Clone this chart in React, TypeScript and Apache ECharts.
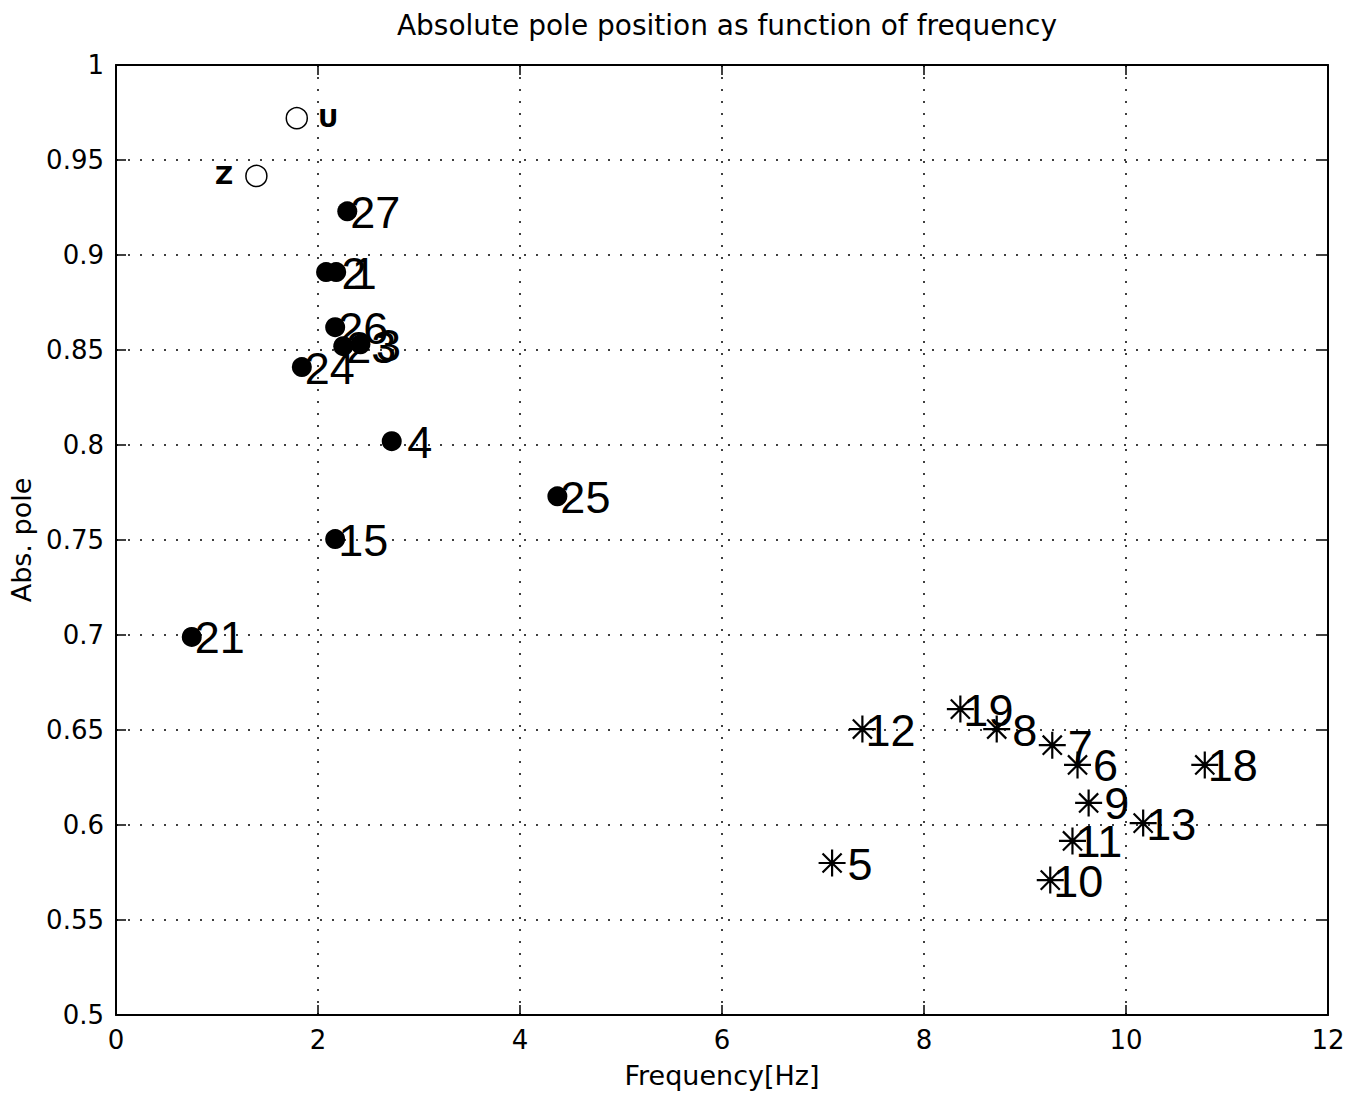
import React, { useEffect, useRef } from "react";
import * as echarts from "echarts";

const titleText = "Absolute pole position as function of frequency";
const xName = "Frequency[Hz]";
const yName = "Abs. pole";

const dotLabels = ["27", "2", "1", "26", "23", "3", "24", "4", "25", "15", "21"];
const dotFreq = [2.29, 2.08, 2.18, 2.17, 2.25, 2.42, 1.84, 2.73, 4.37, 2.17, 0.75];
const dotPole = [0.923, 0.891, 0.891, 0.862, 0.852, 0.853, 0.841, 0.802, 0.773, 0.7505, 0.699];

const starLabels = ["12", "19", "8", "7", "6", "9", "13", "18", "11", "10", "5"];
const starFreq = [7.39, 8.36, 8.72, 9.27, 9.52, 9.63, 10.17, 10.78, 9.47, 9.25, 7.09];
const starPole = [0.6505, 0.661, 0.6505, 0.642, 0.6316, 0.6116, 0.601, 0.6316, 0.5916, 0.571, 0.58];

const openLabels = ["U", "Z"];
const openFreq = [1.79, 1.39];
const openPole = [0.972, 0.9416];

const FONT = "'Liberation Sans', Arial, sans-serif";
const WIDE = "'DejaVu Sans', Verdana, sans-serif";
const STAR = "path://M5,0L5,10M0,5L10,5M1.46,1.46L8.54,8.54M1.46,8.54L8.54,1.46";

const pad = (s: string) => (s.length === 1 ? "\u00A0" + s : s);

const numLabel = {
  show: true,
  position: ["50%", "50%"],
  align: "left",
  verticalAlign: "middle",
  offset: [3, 1],
  fontFamily: FONT,
  fontSize: 45,
  color: "#000",
  opacity: 1,
  formatter: (p: any) => pad(p.name),
};

export default function App() {
  const ref = useRef<HTMLDivElement>(null);
  useEffect(() => {
    const chart = echarts.init(ref.current!, undefined, { renderer: "svg" });
    const axisCommon = {
      axisLine: { show: true, onZero: false, lineStyle: { color: "#000", width: 2 } },
      axisTick: { show: true, inside: true, length: 10, lineStyle: { color: "#000", width: 1.5 } },
    };
    chart.setOption({
      animation: false,
      backgroundColor: "#fff",
      title: {
        text: titleText,
        left: 722,
        textAlign: "center",
        top: 6,
        textStyle: { fontFamily: WIDE, fontSize: 28, fontWeight: "normal", color: "#000" },
      },
      grid: { left: 116, right: 20, top: 65, bottom: 84 },
      xAxis: [
        {
          type: "value",
          min: 0,
          max: 12,
          interval: 2,
          name: xName,
          nameLocation: "middle",
          nameGap: 47,
          nameTextStyle: { fontFamily: WIDE, fontSize: 27, color: "#000" },
          ...axisCommon,
          axisLabel: { fontFamily: WIDE, fontSize: 26, color: "#000", margin: 12 },
          splitLine: { show: true, lineStyle: { color: "#000", type: [2, 10], width: 1.5 } },
        },
        {
          type: "value",
          position: "top",
          min: 0,
          max: 12,
          interval: 2,
          ...axisCommon,
          axisLabel: { show: false },
          splitLine: { show: false },
        },
      ],
      yAxis: [
        {
          type: "value",
          min: 0.5,
          max: 1,
          interval: 0.05,
          name: yName,
          nameLocation: "middle",
          nameGap: 80,
          nameTextStyle: { fontFamily: WIDE, fontSize: 27, color: "#000" },
          ...axisCommon,
          axisLabel: {
            fontFamily: WIDE,
            fontSize: 26,
            color: "#000",
            margin: 12,
            formatter: (v: number) => String(parseFloat(v.toFixed(2))),
          },
          splitLine: { show: true, lineStyle: { color: "#000", type: [2, 10], width: 1.5 } },
        },
        {
          type: "value",
          position: "right",
          min: 0.5,
          max: 1,
          interval: 0.05,
          ...axisCommon,
          axisLabel: { show: false },
          splitLine: { show: false },
        },
      ],
      series: [
        {
          type: "scatter",
          name: "open",
          symbol: "circle",
          symbolSize: 21,
          itemStyle: { color: "#fff", borderColor: "#000", borderWidth: 1.5, opacity: 1 },
          data: openLabels.map((n, i) => ({
            name: n,
            value: [openFreq[i], openPole[i]],
            label: {
              show: true,
              position: i === 0 ? "right" : "left",
              distance: i === 0 ? 10 : 12,
              fontFamily: WIDE,
              fontSize: 25,
              fontWeight: "bold",
              color: "#000",
              formatter: "{b}",
            },
          })),
        },
        {
          type: "scatter",
          name: "dots",
          symbol: "circle",
          symbolSize: 20,
          itemStyle: { color: "#000", opacity: 1 },
          label: numLabel,
          data: dotLabels.map((n, i) => ({ name: n, value: [dotFreq[i], dotPole[i]] })),
        },
        {
          type: "scatter",
          name: "stars",
          symbol: STAR,
          symbolSize: 27,
          itemStyle: { color: "none", borderColor: "#000", borderWidth: 2.2, opacity: 1 },
          label: numLabel,
          data: starLabels.map((n, i) => ({ name: n, value: [starFreq[i], starPole[i]] })),
        },
      ],
    });
    return () => chart.dispose();
  }, []);
  return (
    <div
      ref={ref}
      style={{ position: "fixed", left: 0, top: 0, width: 1348, height: 1099, background: "#fff" }}
    />
  );
}
